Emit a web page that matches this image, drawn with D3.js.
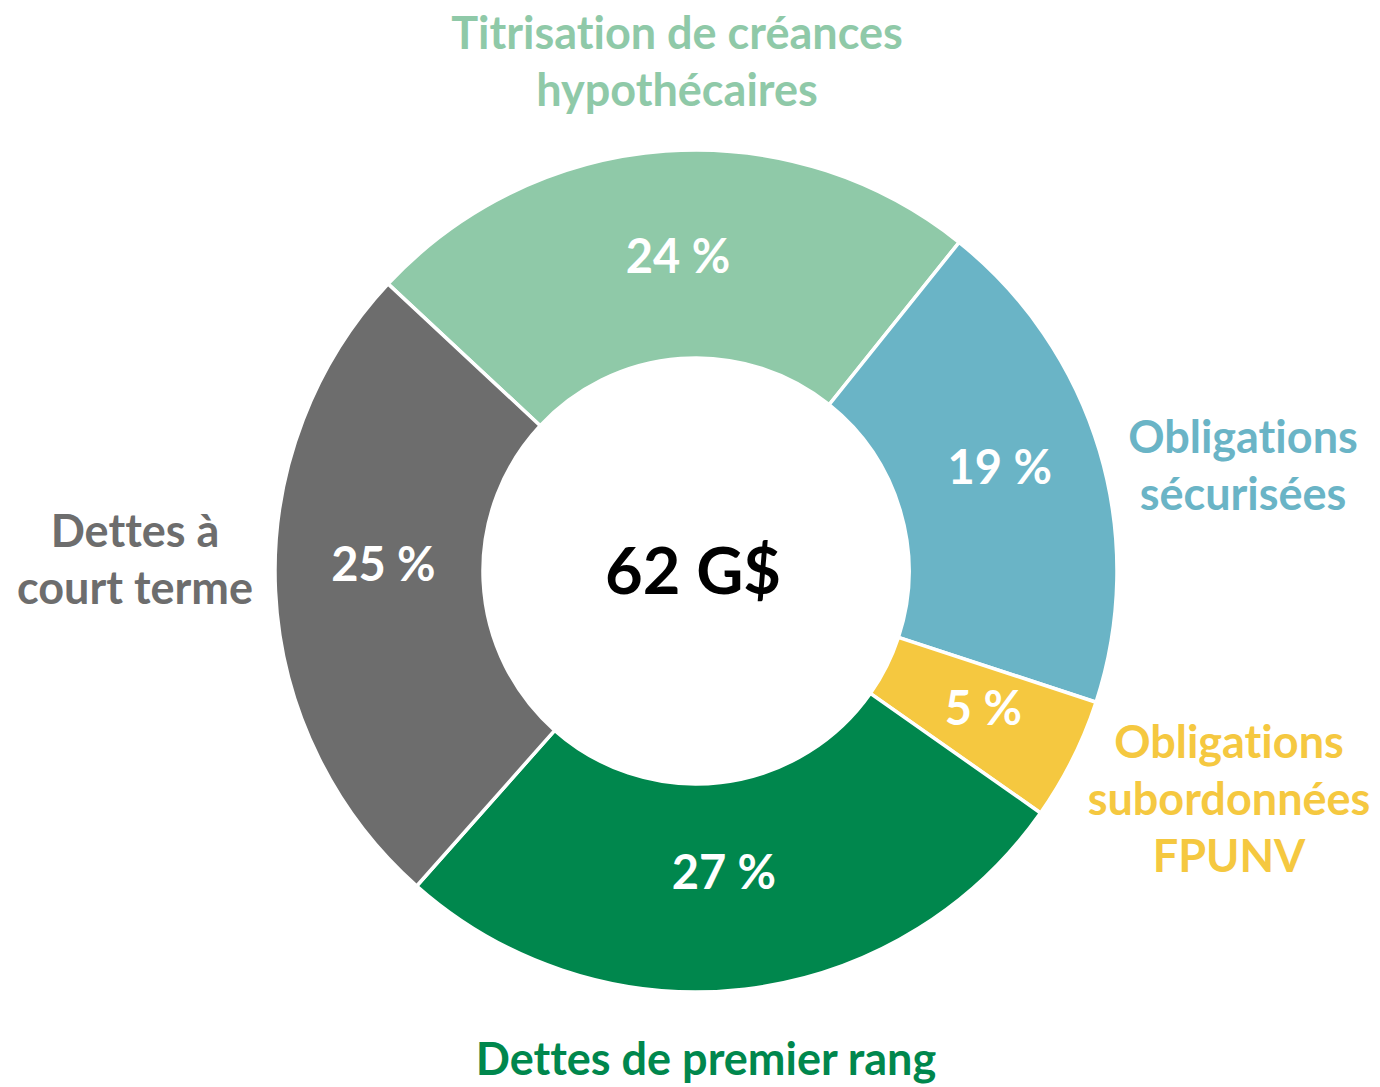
<!DOCTYPE html>
<html>
<head>
<meta charset="utf-8">
<script src="https://cdn.jsdelivr.net/npm/d3@7"></script>
<style>
  body { margin: 0; background: #fff; }
  #chart text { font-family: Lato, "Open Sans", sans-serif; font-weight: 700; font-variant-ligatures: none; }
</style>
</head>
<body>
<div id="chart"></div>
<script>
// funding mix donut
const categories = [
    "Titrisation de créances hypothécaires",
    "Obligations sécurisées",
    "Obligations subordonnées FPUNV",
    "Dettes de premier rang",
    "Dettes à court terme"
]
const shares = [23.8, 19.3, 4.7, 26.8, 25.4]
const labelLines = [
    ["Titrisation de créances", "hypothécaires"],
    ["Obligations", "sécurisées"],
    ["Obligations", "subordonnées", "FPUNV"],
    ["Dettes de premier rang"],
    ["Dettes à", "court terme"]
]
const colors = ["#8fc9a8", "#6ab4c6", "#f5c840", "#00874d", "#6d6d6d"]
const totalLabel = "62 G$"

// layout
const width = 1380, height = 1087
const cx = 696, cy = 571
const outerR = 421, innerR = 213
// outer label: centre x and first baseline, relative to the donut centre
const outerLabelPos = [[-19, -522], [547, -118], [533, 187], [10, 504], [-561, -24]]
const pctNudge = [[5, 1], [0, -13], [4, -5], [-9, -14], [4, -22]]

let svg = d3.select("#chart")
    .append("svg")
        .attr("width", width)
        .attr("height", height)

let g = svg.append("g")
    .attr("transform", `translate(${cx},${cy})`)

let pie = d3.pie()
    .sort(null)
    .startAngle(-47 * Math.PI / 180)
    .endAngle(313 * Math.PI / 180)
    .value(d => d)

let arc = d3.arc()
    .innerRadius(innerR)
    .outerRadius(outerR)

let arcs = pie(shares)

g.selectAll("path.slice")
    .data(arcs)
    .enter().append("path")
        .attr("class", "slice")
        .attr("d", arc)
        .attr("fill", (d, i) => colors[i])
        .attr("stroke", "#fff")
        .attr("stroke-width", 3.5)
        .attr("stroke-linejoin", "miter")

g.selectAll("text.pct")
    .data(arcs)
    .enter().append("text")
        .attr("class", "pct")
        .attr("x", (d, i) => arc.centroid(d)[0] + pctNudge[i][0])
        .attr("y", (d, i) => arc.centroid(d)[1] + pctNudge[i][1])
        .attr("dy", "0.36em")
        .attr("text-anchor", "middle")
        .attr("fill", "#fff")
        .attr("font-size", 47)
        .text(d => `${Math.round(d.value)} %`)

g.append("text")
    .attr("x", -3)
    .attr("y", 0)
    .attr("dy", "0.36em")
    .attr("text-anchor", "middle")
    .attr("fill", "#000")
    .attr("font-size", 65)
    .text(totalLabel)

let lineH = 57
let outer = g.selectAll("text.cat")
    .data(categories)
    .enter().append("text")
        .attr("class", "cat")
        .attr("text-anchor", "middle")
        .attr("fill", (d, i) => colors[i])
        .attr("font-size", 45)

outer.each(function(d, i) {
    let x = outerLabelPos[i][0]
    let y0 = outerLabelPos[i][1]
    d3.select(this).selectAll("tspan")
        .data(labelLines[i])
        .enter().append("tspan")
            .attr("x", x)
            .attr("y", (l, j) => y0 + j * lineH)
            .text(l => l)
})
</script>
</body>
</html>
